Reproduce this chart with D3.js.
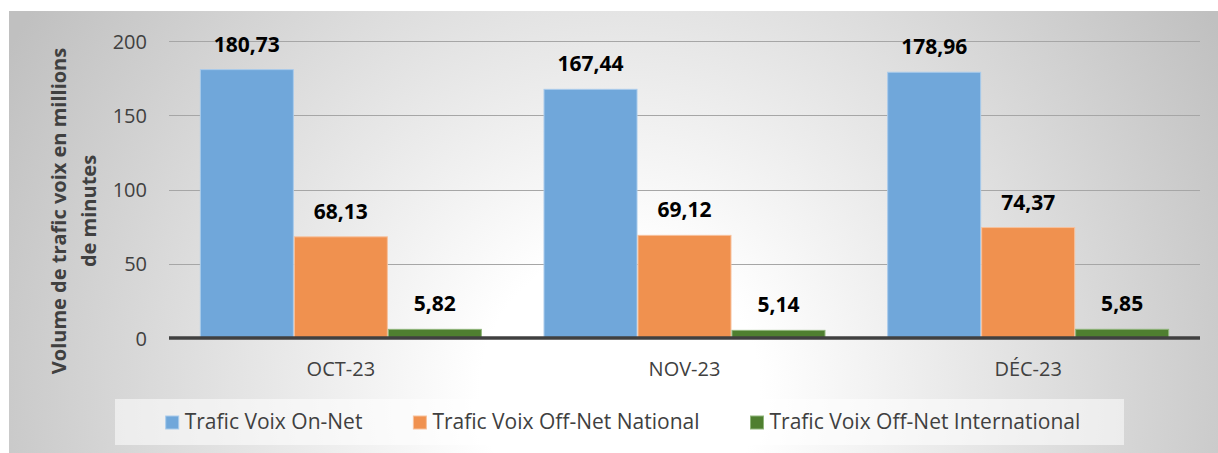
<!DOCTYPE html>
<html><head><meta charset="utf-8">
<script src="https://cdn.jsdelivr.net/npm/d3@7"></script>
<style>html,body{margin:0;padding:0;background:#fff;}svg{display:block;}</style>
</head><body>
<svg id="chart" width="1218" height="453"></svg>
<script>
const months = ["OCT-23", "NOV-23", "DÉC-23"];
const seriesNames = ["Trafic Voix On-Net", "Trafic Voix Off-Net National", "Trafic Voix Off-Net International"];
const onNet = [180.73, 167.44, 178.96];
const offNetNational = [68.13, 69.12, 74.37];
const offNetInternational = [5.82, 5.14, 5.85];
const yTicks = [0, 50, 100, 150, 200];
const yTitleLines = ["Volume de trafic voix en millions", "de minutes"];

const colors = ["#70a7da", "#f0914f", "#4f7f30"];
const strokes = ["#a9cbeb", "#f7c19c", "#8fb57a"];
const values = [onNet, offNetNational, offNetInternational];

const svg = d3.select("#chart");
const defs = svg.append("defs");
const grad = defs.append("radialGradient").attr("id", "bg")
  .attr("gradientUnits", "userSpaceOnUse")
  .attr("cx", 620).attr("cy", 390).attr("r", 700);
grad.append("stop").attr("offset", 0).attr("stop-color", "#ffffff");
grad.append("stop").attr("offset", 0.2).attr("stop-color", "#ffffff");
grad.append("stop").attr("offset", 1).attr("stop-color", "#c0c0c0");

svg.append("rect").attr("x", 9).attr("y", 11).attr("width", 1209).attr("height", 442).attr("fill", "url(#bg)");

const x0 = d3.scaleBand().domain(months).range([169, 1200]).paddingInner(0.1795).paddingOuter(0.0898);
const x1 = d3.scaleBand().domain(d3.range(seriesNames.length)).range([0, x0.bandwidth()]).padding(0);
const y = d3.scaleLinear().domain([0, 200]).range([338, 41]);

const font = "'Open Sans', 'DejaVu Sans', sans-serif";

// gridlines
svg.append("g").selectAll("line").data(yTicks.filter(d => d > 0)).join("line")
  .attr("x1", 169).attr("x2", 1200)
  .attr("y1", d => Math.round(y(d)) + 0.5).attr("y2", d => Math.round(y(d)) + 0.5)
  .attr("stroke", "#a6a6a6").attr("stroke-width", 1.1);

// y axis labels
const yAxis = d3.axisLeft(y).tickValues(yTicks).tickSize(0).tickPadding(0);
const gy = svg.append("g").attr("transform", "translate(147,0)").call(yAxis);
gy.select(".domain").remove();
gy.selectAll("text").attr("font-family", font).attr("font-size", 20).attr("fill", "#404040").attr("dy", "0.35em");

// bars
const groups = svg.append("g").selectAll("g").data(months).join("g")
  .attr("transform", d => `translate(${x0(d)},0)`);
groups.selectAll("rect").data((m, i) => values.map((v, s) => ({s, v: v[i]}))).join("rect")
  .attr("x", d => x1(d.s) + 0.5)
  .attr("width", x1.bandwidth() - 1)
  .attr("y", d => y(d.v))
  .attr("height", d => y(0) - y(d.v))
  .attr("fill", d => colors[d.s])
  .attr("stroke", d => strokes[d.s]).attr("stroke-width", 1);
groups.selectAll("text").data((m, i) => values.map((v, s) => ({s, v: v[i]}))).join("text")
  .attr("x", d => x1(d.s) + x1.bandwidth() / 2)
  .attr("y", d => y(d.v) - 18)
  .attr("text-anchor", "middle")
  .attr("font-family", font).attr("font-size", 21).attr("font-weight", "bold").attr("fill", "#000")
  .text(d => d.v.toFixed(2).replace(".", ","));

// x axis
svg.append("line").attr("x1", 169).attr("x2", 1200).attr("y1", 338).attr("y2", 338)
  .attr("stroke", "#404040").attr("stroke-width", 3.5);
const xAxis = d3.axisBottom(x0).tickSize(0).tickPadding(0);
const gx = svg.append("g").attr("transform", "translate(0,376)").call(xAxis);
gx.select(".domain").remove();
gx.selectAll("text").attr("font-family", font).attr("font-size", 20).attr("fill", "#404040").attr("dy", 0);

// y title
const yt = svg.append("text").attr("transform", "translate(0,211) rotate(-90)")
  .attr("text-anchor", "middle").attr("font-family", font).attr("font-size", 20).attr("font-weight", "bold").attr("fill", "#404040");
yt.selectAll("tspan").data(yTitleLines).join("tspan")
  .attr("x", 0).attr("y", (d, i) => 66 + i * 30).text(d => d);

// legend
svg.append("rect").attr("x", 115).attr("y", 399).attr("width", 1009).attr("height", 46)
  .attr("fill", "#ffffff").attr("fill-opacity", 0.55);
const lg = svg.append("g");
const items = lg.selectAll("g").data(seriesNames).join("g");
items.append("rect").attr("width", 13).attr("height", 13).attr("y", 416)
  .attr("fill", (d, i) => colors[i]).attr("stroke", (d, i) => strokes[i]).attr("stroke-width", 1);
items.append("text").attr("x", 19).attr("y", 429)
  .attr("font-family", font).attr("font-size", 21).attr("fill", "#404040").text(d => d);
let widths = [];
items.each(function() { widths.push(d3.select(this).select("text").node().getComputedTextLength()); });
const gap = 51;
const total = d3.sum(widths) + widths.length * 19 + gap * (widths.length - 1);
let cx = 623 - total / 2;
items.attr("transform", (d, i) => { const t = `translate(${cx},0)`; cx += 19 + widths[i] + gap; return t; });
</script>
</body></html>
